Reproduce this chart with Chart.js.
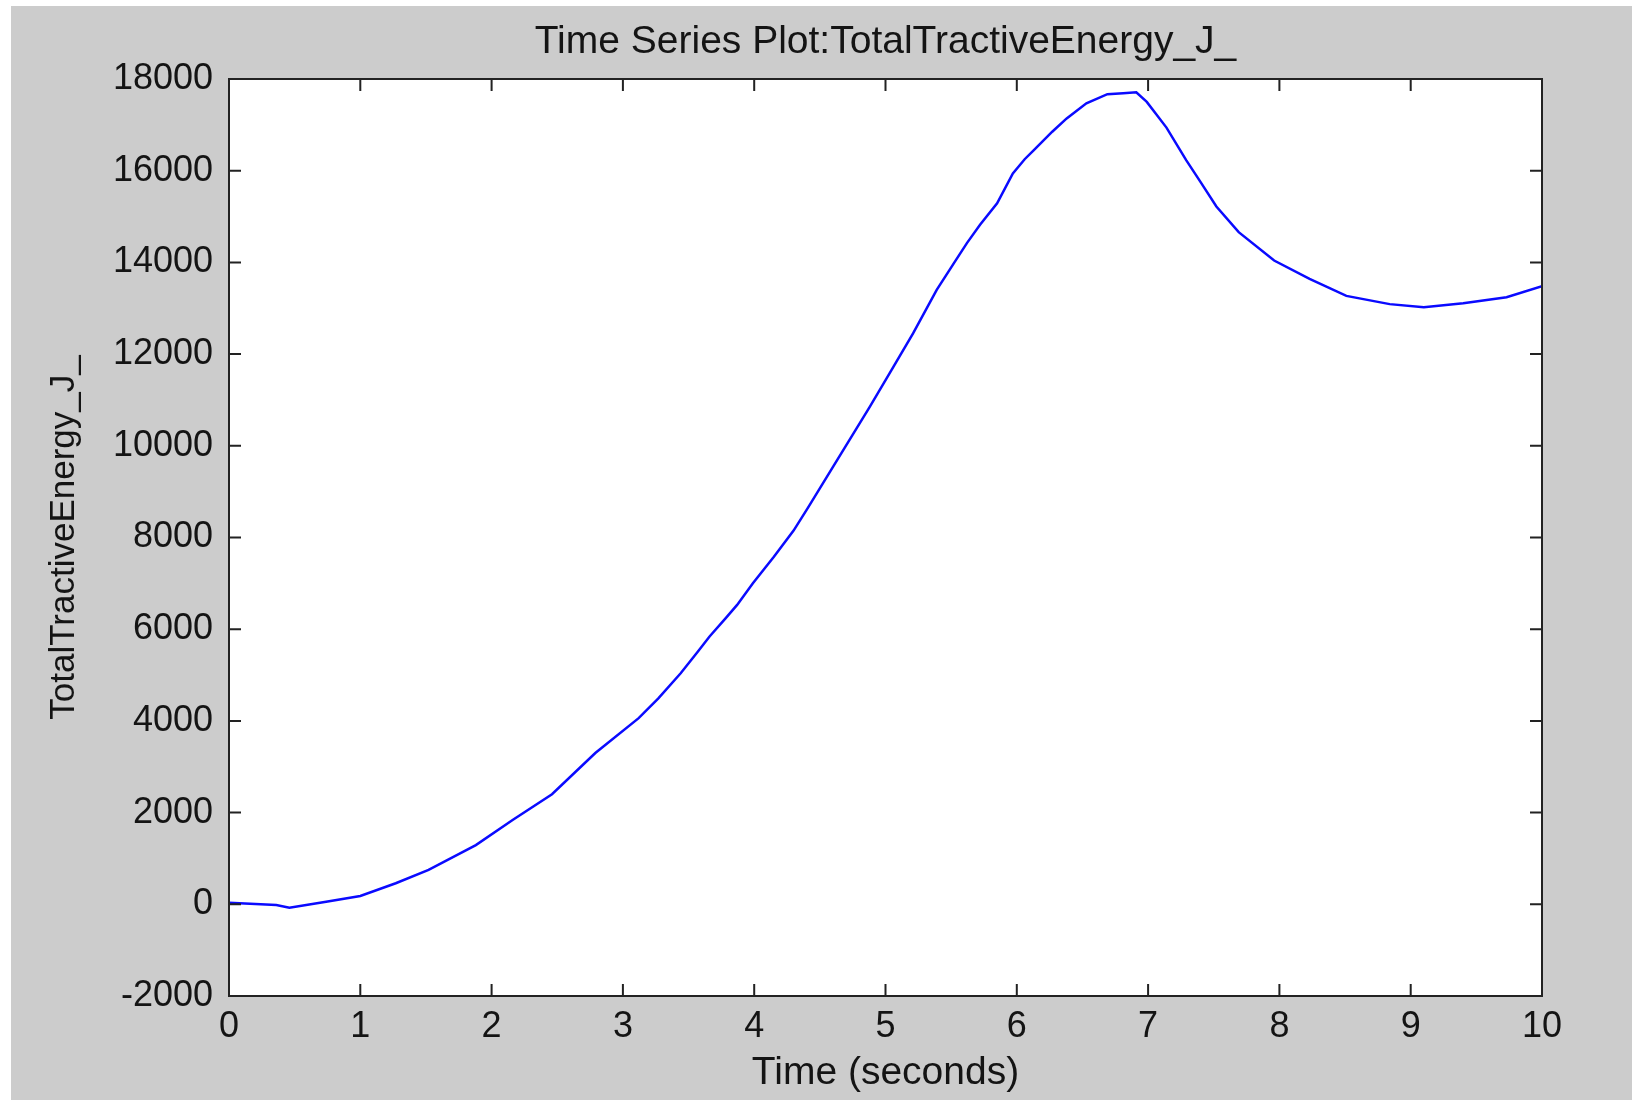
<!DOCTYPE html>
<html>
<head>
<meta charset="utf-8">
<script src="https://cdn.jsdelivr.net/npm/chart.js@4"></script>
<style>
html, body { margin: 0; padding: 0; background: #ffffff; }
#wrap { position: absolute; left: 11px; top: 6px; width: 1621px; height: 1094px; background: #cccccc; }
</style>
</head>
<body>
<div id="wrap"><canvas id="myLineChart"></canvas></div>
<script>
var timeValues = [0, 0.36, 0.46, 0.74, 1.0, 1.27, 1.52, 1.88, 2.16, 2.46, 2.79, 3.12, 3.27, 3.44, 3.57,
    3.66, 3.78, 3.87, 3.99, 4.15, 4.3, 4.41, 4.6, 4.88, 5.06, 5.21, 5.39, 5.52, 5.62, 5.72, 5.85,
    5.97, 6.06, 6.13, 6.27, 6.38, 6.53, 6.69, 6.81, 6.91, 6.99, 7.14, 7.29, 7.4, 7.52, 7.69, 7.96,
    8.23, 8.51, 8.84, 9.1, 9.4, 9.73, 10];
var energyValues = [35, -15, -75, 55, 180, 460, 750, 1290, 1840, 2400, 3300, 4060, 4490, 5040, 5510,
    5840, 6230, 6530, 7000, 7580, 8150, 8650, 9540, 10850, 11720, 12450, 13400, 13980, 14420, 14820, 15290,
    15940, 16250, 16450, 16850, 17140, 17470, 17670, 17690, 17710, 17500, 16940, 16230, 15750, 15220, 14660, 14040,
    13640, 13270, 13090, 13020, 13110, 13240, 13480];
var xTicks = [0, 1, 2, 3, 4, 5, 6, 7, 8, 9, 10];
var yTicks = [-2000, 0, 2000, 4000, 6000, 8000, 10000, 12000, 14000, 16000, 18000];

var textColor = "#141414";
var fontFamily = "'Liberation Sans', Arial, sans-serif";

var points = timeValues.map(function (t, i) {
    return { x: t, y: energyValues[i] };
});

// white plot area, black box and inward ticks on all four sides
var axesBox = {
    id: "axesBox",
    beforeDraw: function (chart) {
        var a = chart.chartArea;
        var ctx = chart.ctx;
        ctx.save();
        ctx.fillStyle = "#ffffff";
        ctx.fillRect(a.left, a.top, a.right - a.left, a.bottom - a.top);
        ctx.restore();
    },
    afterDraw: function (chart) {
        var a = chart.chartArea;
        var ctx = chart.ctx;
        var xs = chart.scales.x;
        var ys = chart.scales.y;
        var len = 12;
        ctx.save();
        ctx.strokeStyle = "#222222";
        ctx.lineWidth = 2;
        ctx.beginPath();
        xs.ticks.forEach(function (tk) {
            var px = xs.getPixelForValue(tk.value);
            ctx.moveTo(px, a.bottom);
            ctx.lineTo(px, a.bottom - len);
            ctx.moveTo(px, a.top);
            ctx.lineTo(px, a.top + len);
        });
        ys.ticks.forEach(function (tk) {
            var py = ys.getPixelForValue(tk.value);
            ctx.moveTo(a.left, py);
            ctx.lineTo(a.left + len, py);
            ctx.moveTo(a.right, py);
            ctx.lineTo(a.right - len, py);
        });
        ctx.stroke();
        ctx.strokeRect(a.left, a.top, a.right - a.left, a.bottom - a.top);
        ctx.restore();
    },
};

function drawLineChart() {
    var ctx = document.getElementById("myLineChart").getContext("2d");
    var myLineChart = new Chart(ctx, {
        type: "line",
        data: {
            datasets: [
                {
                    data: points,
                    borderColor: "#0a0aff",
                    borderWidth: 2.5,
                    pointRadius: 0,
                    tension: 0,
                    fill: false,
                },
            ],
        },
        options: {
            responsive: true,
            maintainAspectRatio: false,
            animation: false,
            layout: { padding: { top: 0, right: 90, bottom: 0, left: 0 } },
            plugins: {
                legend: { display: false },
                tooltip: { enabled: false },
                title: {
                    display: true,
                    fullSize: false,
                    text: "Time Series Plot:TotalTractiveEnergy_J_",
                    color: textColor,
                    font: { family: fontFamily, size: 39, weight: "normal" },
                    padding: { top: 12.6, bottom: 13.6 },
                },
            },
            scales: {
                x: {
                    type: "linear",
                    min: 0,
                    max: 10,
                    afterBuildTicks: function (scale) {
                        scale.ticks = xTicks.map(function (v) { return { value: v }; });
                    },
                    afterFit: function (scale) { scale.height = 104; },
                    grid: { display: false, drawTicks: false },
                    border: { display: false },
                    ticks: {
                        color: textColor,
                        padding: 9.5,
                        maxRotation: 0,
                        font: { family: fontFamily, size: 36 },
                    },
                    title: {
                        display: true,
                        text: "Time (seconds)",
                        color: textColor,
                        font: { family: fontFamily, size: 39 },
                        padding: { top: 0, bottom: 3.6 },
                    },
                },
                y: {
                    type: "linear",
                    min: -2000,
                    max: 18000,
                    afterBuildTicks: function (scale) {
                        scale.ticks = yTicks.map(function (v) { return { value: v }; });
                    },
                    afterFit: function (scale) { scale.width = 218; },
                    grid: { display: false, drawTicks: false },
                    border: { display: false },
                    ticks: {
                        color: textColor,
                        padding: 16,
                        font: { family: fontFamily, size: 36 },
                        callback: function (v) { return String(v); },
                    },
                    title: {
                        display: true,
                        text: "TotalTractiveEnergy_J_",
                        color: textColor,
                        font: { family: fontFamily, size: 35 },
                        padding: { top: 32, bottom: 0 },
                    },
                },
            },
        },
        plugins: [axesBox],
    });
}

window.onload = function () {
    drawLineChart();
};
</script>
</body>
</html>
